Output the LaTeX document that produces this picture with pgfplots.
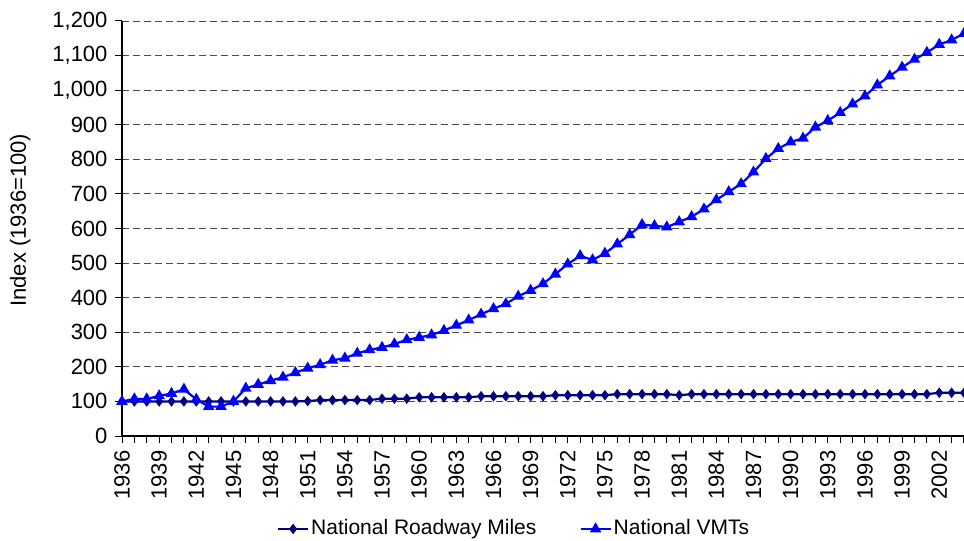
\documentclass[border=0pt]{standalone}
\usepackage{fontspec}
\setmainfont{Liberation Sans}
\usepackage{pgfplots}
\pgfplotsset{compat=1.18}
\definecolor{vmt}{RGB}{0,0,255}
\definecolor{road}{RGB}{0,0,128}
\begin{document}
\fontsize{22bp}{26bp}\selectfont
\begin{tikzpicture}
\begin{axis}[name=ax, scale only axis, width=842bp, height=415bp,
 xmin=1936, xmax=2004, ymin=0, ymax=1200,
 axis x line=bottom, axis y line=left,
 axis line style={-, line width=1.3bp, black},
 xtick={1936,1939,...,2002}, minor xtick={1936,...,2004},
 ytick={0,100,...,1200},
 tick align=outside, major tick length=7bp, minor tick length=7bp,
 every tick/.style={black, line width=1bp},
 ymajorgrids, grid style={dash pattern=on 7bp off 4bp, gray!60!black, line width=0.9bp},
 xticklabel style={rotate=90, anchor=east, /pgf/number format/1000 sep={}},
 yticklabel style={/pgf/number format/1000 sep={,}},
 /pgf/number format/assume math mode=true,
 ylabel={Index (1936=100)},
 ylabel style={at={(axis description cs:-0.121,0.52)}, anchor=center},
 legend image code/.code={\draw[mark repeat=2,mark phase=2,#1] plot coordinates {(0bp,0bp)(15bp,0bp)(30bp,0bp)};},
 legend style={at={(0.4656,-0.224)}, anchor=center, draw=none, fill=none,
   legend columns=2, /tikz/every even column/.append style={column sep=41bp},
   font=\fontsize{21bp}{25bp}\selectfont, nodes={inner xsep=2bp}},
 legend cell align=left,
]
\addplot[road, line width=2.2bp, mark=diamond*, mark size=3.5bp] coordinates {
(1936,100)(1937,100)(1938,100)(1939,100)(1940,100)(1941,100)(1942,100)(1943,100)(1944,100)(1945,100)
(1946,100)(1947,100)(1948,100)(1949,100)(1950,100)(1951,101)(1952,104)(1953,104)(1954,104)(1955,104)
(1956,104)(1957,108)(1958,108)(1959,108)(1960,112)(1961,112)(1962,112)(1963,112)(1964,112)(1965,115)
(1966,115)(1967,115)(1968,115)(1969,115)(1970,115)(1971,118)(1972,118)(1973,118)(1974,118)(1975,118)
(1976,121)(1977,121)(1978,121)(1979,121)(1980,121)(1981,118)(1982,121)(1983,121)(1984,121)(1985,121)
(1986,121)(1987,121)(1988,121)(1989,121)(1990,121)(1991,121)(1992,121)(1993,121)(1994,121)(1995,121)
(1996,121)(1997,121)(1998,121)(1999,121)(2000,121)(2001,121)(2002,125)(2003,125)(2004,125)
};
\addlegendentry{National Roadway Miles}
\addplot[vmt, line width=2.2bp, mark=triangle*, mark size=4.5bp] coordinates {
(1936,100)(1937,107)(1938,107)(1939,116)(1940,123)(1941,135)(1942,106)(1943,85)(1944,85)(1945,100)
(1946,138)(1947,149)(1948,160)(1949,170)(1950,183)(1951,196)(1952,206)(1953,219)(1954,225)(1955,239)
(1956,249)(1957,256)(1958,266)(1959,278)(1960,285)(1961,292)(1962,305)(1963,320)(1964,335)(1965,352)
(1966,368)(1967,382)(1968,404)(1969,421)(1970,440)(1971,468)(1972,497)(1973,521)(1974,509)(1975,528)
(1976,555)(1977,582)(1978,611)(1979,608)(1980,604)(1981,619)(1982,634)(1983,656)(1984,683)(1985,706)
(1986,729)(1987,763)(1988,802)(1989,831)(1990,850)(1991,861)(1992,893)(1993,912)(1994,935)(1995,960)
(1996,983)(1997,1015)(1998,1041)(1999,1066)(2000,1089)(2001,1109)(2002,1132)(2003,1145)(2004,1164)
};
\addlegendentry{National VMTs}
\end{axis}
\pgfresetboundingbox
\path ([shift={(-122bp,-104bp)}]ax.south west) rectangle ([shift={(0bp,21bp)}]ax.north east);
\end{tikzpicture}
\end{document}
